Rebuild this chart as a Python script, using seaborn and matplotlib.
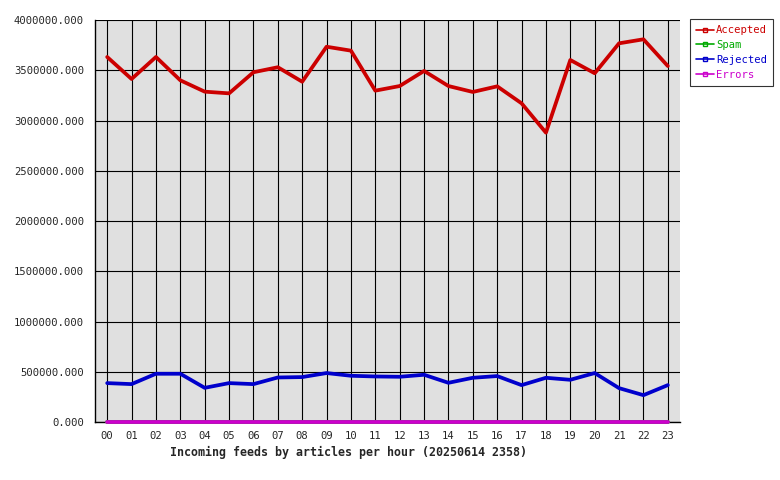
import matplotlib
matplotlib.use("Agg")
import matplotlib.pyplot as plt
from matplotlib.lines import Line2D
import numpy as np
import pandas as pd
import seaborn as sns

# hourly data
hours = ["00", "01", "02", "03", "04", "05", "06", "07", "08", "09", "10", "11",
         "12", "13", "14", "15", "16", "17", "18", "19", "20", "21", "22", "23"]
accepted = [3632000, 3413000, 3632000, 3400000, 3287000, 3270000, 3480000, 3530000,
            3386000, 3734000, 3695000, 3297000, 3343000, 3493000, 3343000, 3284000,
            3340000, 3171000, 2879000, 3602000, 3470000, 3768000, 3808000, 3542000]
spam = [0] * 24
rejected = [387000, 377000, 480000, 480000, 340000, 387000, 377000, 443000,
            447000, 487000, 460000, 453000, 450000, 470000, 390000, 440000,
            457000, 367000, 440000, 420000, 487000, 337000, 267000, 367000]
errors = [0] * 24

series_names = ["Accepted", "Spam", "Rejected", "Errors"]
series_colors = ["#cc0000", "#00aa00", "#0000cc", "#cc00cc"]
y_ticks = np.arange(0, 4000001, 500000)
x_label = "Incoming feeds by articles per hour (20250614 2358)"

df = pd.DataFrame({
    "hour": list(range(24)) * 4,
    "value": accepted + spam + rejected + errors,
    "series": [n for n in series_names for _ in range(24)],
})

sns.set_style("white")
plt.rcParams["font.family"] = ["DejaVu Sans Mono"]

fig = plt.figure(figsize=(7.8, 4.8), dpi=100)
ax = fig.add_axes([95 / 780, 58 / 480, 585 / 780, 402 / 480])
ax.set_facecolor("#e0e0e0")

sns.lineplot(data=df, x="hour", y="value", hue="series", hue_order=series_names,
             palette=series_colors, linewidth=2.7, legend=False, ax=ax, zorder=3)
for line in ax.lines:
    line.set_clip_on(False)

ax.set_xlim(-0.5, 23.5)
ax.set_ylim(0, 4000000)
ax.set_xticks(range(24))
ax.set_xticklabels(hours, fontsize=7.6)
ax.set_yticks(y_ticks)
ax.set_yticklabels([f"{v:.3f}" for v in y_ticks], fontsize=7.6)
ax.grid(True, color="black", linewidth=0.8, zorder=1)
ax.set_axisbelow(True)
ax.tick_params(axis="both", length=5, width=0.8, color="black", direction="out", pad=3)
ax.tick_params(axis="x", pad=1.5)
ax.set_xlabel(x_label, fontsize=8.4, fontweight="bold")
ax.xaxis.set_label_coords((348 - 95) / 585, -0.06)
ax.set_ylabel("")
for side in ["top", "right"]:
    ax.spines[side].set_visible(False)
for side in ["left", "bottom"]:
    ax.spines[side].set_color("black")
    ax.spines[side].set_linewidth(1.0)

handles = [Line2D([0], [0], color=c, linewidth=1.2, marker="s", markersize=2.5,
                  markerfacecolor="none", markeredgecolor=c) for c in series_colors]
leg = fig.legend(handles, series_names, loc="upper left",
                 bbox_to_anchor=(690 / 780, 1 - 19 / 480), fontsize=7.6,
                 frameon=True, fancybox=False, edgecolor="black", handlelength=1.7,
                 handletextpad=0.15, borderpad=0.6, labelspacing=0.45,
                 borderaxespad=0)
leg.get_frame().set_linewidth(0.8)
for txt, c in zip(leg.get_texts(), series_colors):
    txt.set_color(c)

fig.savefig("out.png", dpi=100)
